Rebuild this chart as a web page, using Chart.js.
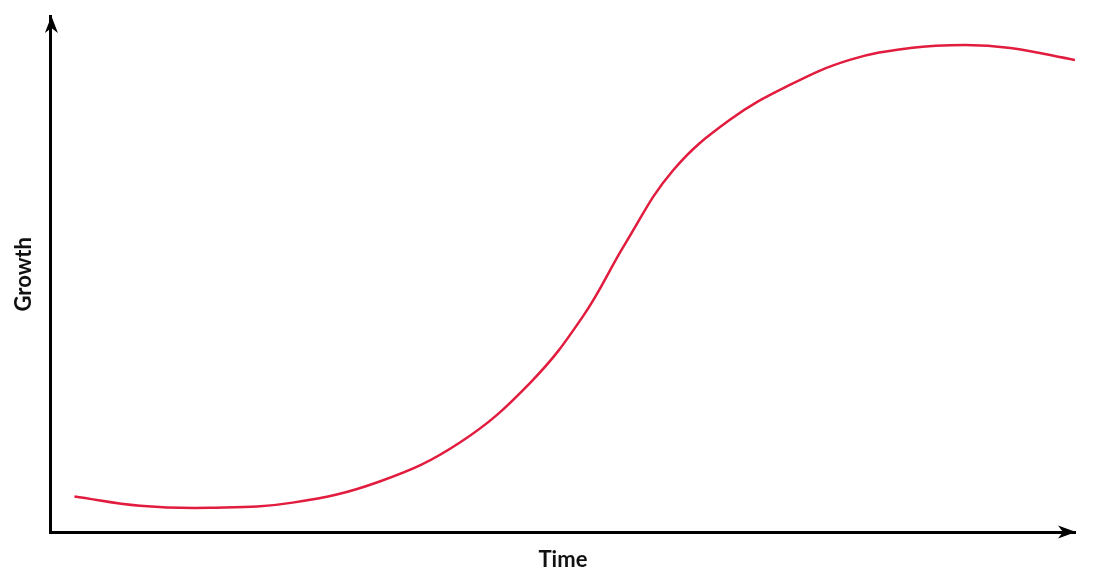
<!DOCTYPE html>
<html>
<head>
<meta charset="utf-8">
<script src="https://cdn.jsdelivr.net/npm/chart.js@4"></script>
<style>
  body { margin: 0; background: #fff; }
  #wrap { width: 1117px; height: 586px; }
</style>
</head>
<body>
<div id="wrap"><canvas id="growth-chart"></canvas></div>
<script>
// time (0-100) and growth (0-100)
const timeVals   = [2.3, 8.7, 15.5, 23.6, 32.1, 39.9, 46.8, 52.0, 56.1, 60.7, 66.3, 72.2, 78.0, 83.9, 89.3, 93.7, 100];
const growthVals = [7.0, 5.2, 4.8, 5.8, 9.9, 17.4, 29.0, 42.0, 56.0, 70.0, 79.9, 86.7, 91.5, 93.8, 94.4, 93.8, 91.5];
const xTitle = "Time";
const yTitle = "Growth";

const LINE_RED = "rgb(226, 28, 62)";

let points = [];
for (let i = 0; i < timeVals.length; i++) {
  points.push({x: timeVals[i], y: growthVals[i]});
}

// arrow heads on the ends of both axes
const axisArrows = {
  id: "axisArrows",
  afterDraw(chart) {
    const ctx = chart.ctx;
    const a = chart.chartArea;
    ctx.save();
    ctx.fillStyle = "#000";
    // up arrow
    let x = a.left + 0.5, y = a.top;
    ctx.beginPath();
    ctx.moveTo(x, y);
    ctx.lineTo(x + 6.5, y + 17);
    ctx.lineTo(x, y + 12);
    ctx.lineTo(x - 6.5, y + 17);
    ctx.closePath();
    ctx.fill();
    // right arrow
    x = a.right + 1; y = a.bottom - 0.5;
    ctx.beginPath();
    ctx.moveTo(x, y);
    ctx.lineTo(x - 18, y - 6.5);
    ctx.lineTo(x - 13, y);
    ctx.lineTo(x - 18, y + 6.5);
    ctx.closePath();
    ctx.fill();
    ctx.restore();
  }
};

const ctx = document.getElementById("growth-chart").getContext("2d");
var chart = new Chart(ctx, {
  type: "line",
  data: {
    datasets: [{
      label: "Growth",
      data: points,
      borderColor: LINE_RED,
      borderWidth: 2.5,
      pointRadius: 0,
      tension: 0.4,
      fill: false
    }]
  },
  options: {
    responsive: true,
    maintainAspectRatio: false,
    animation: false,
    layout: {padding: {top: 16, right: 42, bottom: 13, left: 0}},
    scales: {
      x: {
        type: "linear",
        min: 0, max: 100,
        grid: {display: false, drawTicks: false},
        border: {display: true, color: "#000", width: 3},
        ticks: {display: false},
        title: {
          display: true, text: xTitle, color: "#111",
          font: {family: "Lato", size: 22, weight: "bold"},
          padding: {top: 14, bottom: 0}
        }
      },
      y: {
        min: 0, max: 100,
        grid: {display: false, drawTicks: false},
        border: {display: true, color: "#000", width: 3},
        ticks: {display: false},
        title: {
          display: true, text: yTitle, color: "#111",
          font: {family: "Lato", size: 22, weight: "bold"},
          padding: {top: 11, bottom: 13.5}
        }
      }
    },
    plugins: {
      legend: {display: false},
      tooltip: {enabled: false}
    }
  },
  plugins: [axisArrows]
});
</script>
</body>
</html>
